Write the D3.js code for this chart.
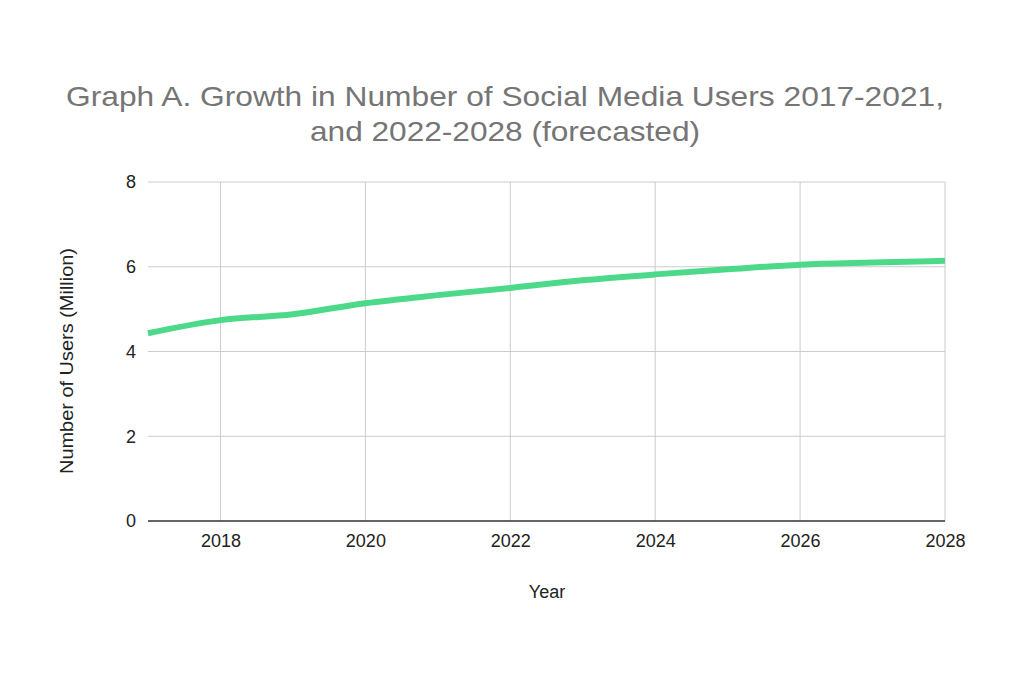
<!DOCTYPE html>
<html><head><meta charset="utf-8">
<script src="https://cdn.jsdelivr.net/npm/d3@7"></script>
<style>body{margin:0;background:#fff;} text{font-family:"Liberation Sans", Arial, sans-serif;}</style>
</head><body>
<svg id="c" width="1024" height="680"></svg>
<script>
const years = [2017,2018,2019,2020,2021,2022,2023,2024,2025,2026,2027,2028];
const users = [4.43,4.74,4.88,5.14,5.33,5.50,5.68,5.82,5.94,6.05,6.10,6.14];
const xTicks = [2018,2020,2022,2024,2026,2028];
const yTicks = [0,2,4,6,8];
const titleLines = ["Graph A. Growth in Number of Social Media Users 2017-2021,","and 2022-2028 (forecasted)"];
const xLabel = "Year";
const yLabel = "Number of Users (Million)";

const svg = d3.select("#c");
const m = {l:148, r:945, t:182, b:521};
const x = d3.scaleLinear().domain([2017,2028]).range([m.l,m.r]);
const y = d3.scaleLinear().domain([0,8]).range([m.b,m.t]);

svg.append("rect").attr("width",1024).attr("height",680).attr("fill","#fff");

const titleWidths = [878, 390];
svg.selectAll("text.title").data(titleLines).join("text").attr("class","title")
  .attr("x",505).attr("y",(d,i)=>106+i*35).attr("text-anchor","middle")
  .attr("font-size",28).attr("fill","#757575")
  .attr("textLength",(d,i)=>titleWidths[i]).attr("lengthAdjust","spacingAndGlyphs")
  .text(d=>d);

// grid
svg.append("g").selectAll("line").data(yTicks.filter(d=>d>0)).join("line")
  .attr("x1",m.l).attr("x2",m.r).attr("y1",d=>y(d)).attr("y2",d=>y(d))
  .attr("stroke","#cccccc").attr("stroke-width",1);
svg.append("g").selectAll("line").data(xTicks).join("line")
  .attr("x1",d=>x(d)).attr("x2",d=>x(d)).attr("y1",m.t).attr("y2",m.b)
  .attr("stroke","#cccccc").attr("stroke-width",1);

// axes
const xa = svg.append("g").attr("transform",`translate(0,${m.b})`)
  .call(d3.axisBottom(x).tickValues(xTicks).tickFormat(d3.format("d")).tickSize(0).tickPadding(13));
xa.select(".domain").remove();
xa.selectAll("text").attr("font-size",18).attr("fill","#222").style("font-family","'Liberation Sans', Arial, sans-serif");
const ya = svg.append("g").attr("transform",`translate(${m.l},0)`)
  .call(d3.axisLeft(y).tickValues(yTicks).tickSize(0).tickPadding(12));
ya.select(".domain").remove();
ya.selectAll("text").attr("font-size",18).attr("fill","#222").style("font-family","'Liberation Sans', Arial, sans-serif");

svg.append("line").attr("x1",m.l).attr("x2",m.r).attr("y1",y(0)).attr("y2",y(0))
  .attr("stroke","#333").attr("stroke-width",1.5);

svg.append("text").attr("x",547).attr("y",598).attr("text-anchor","middle")
  .attr("font-size",18).attr("fill","#222").text(xLabel);
svg.append("text").attr("transform","translate(73,361) rotate(-90)").attr("text-anchor","middle")
  .attr("font-size",18).attr("fill","#222")
  .attr("textLength",226).attr("lengthAdjust","spacingAndGlyphs").text(yLabel);

const line = d3.line().x((d,i)=>x(years[i])).y(d=>y(d)).curve(d3.curveMonotoneX);
svg.append("path").attr("d",line(users)).attr("fill","none")
  .attr("stroke","#4cd98a").attr("stroke-width",6).attr("stroke-linejoin","round");
</script>
</body></html>
